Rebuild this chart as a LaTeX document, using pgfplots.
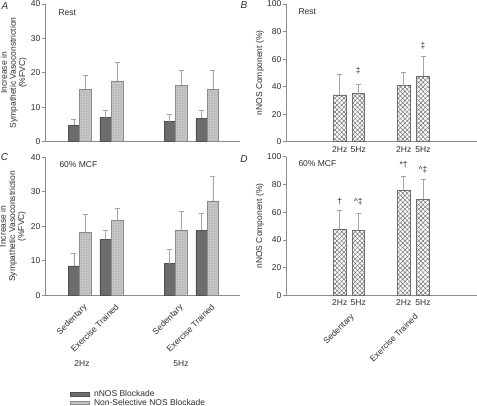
\documentclass[border=0pt]{standalone}
\usepackage{fontspec}
\setmainfont{Liberation Sans}
\usepackage{pgfplots}
\pgfplotsset{compat=1.18}
\usetikzlibrary{patterns,patterns.meta}

\definecolor{darkbar}{RGB}{108,108,108}
\definecolor{darkedge}{RGB}{80,80,80}
\definecolor{lightbar}{RGB}{200,200,200}
\definecolor{lightedge}{RGB}{140,140,140}
\definecolor{axgray}{RGB}{140,140,140}
\definecolor{errgray}{RGB}{165,165,165}
\definecolor{txt}{RGB}{45,45,45}
\definecolor{hatch}{RGB}{110,110,110}

\newcommand{\fs}{\fontsize{8.5bp}{9.2bp}\selectfont}

\pgfplotsset{
  panel/.style={
    scale only axis, clip=false,
    axis lines*=left,
    axis line style={axgray, line width=0.8bp},
    ymin=0,
    tick align=outside,
    major tick length=3bp,
    tick style={axgray, line width=0.7bp},
    x tick style={draw=none},
    tick label style={font=\fs, text=txt},
    /pgf/number format/assume math mode=true,
    label style={font=\fs, text=txt},
    yticklabel style={inner sep=1.5bp},
    error bars/y dir=plus,
    error bars/y explicit,
    error bars/error bar style={errgray, line width=0.8bp},
    error bars/error mark options={errgray, line width=0.8bp, mark size=2.5bp, rotate=90},
  },
  nnos/.style={ybar, bar width=11.5, fill=darkbar, draw=darkedge, line width=0.5bp},
  nsel/.style={ybar, bar width=11.5, fill=lightbar, draw=lightedge, line width=0.5bp,
    postaction={pattern={Dots[distance=1.6bp, radius=0.35bp]}, pattern color=gray!80}},
  hatchbar/.style={ybar, bar width=12.5, fill=white, draw=hatch, line width=0.6bp,
    pattern={Lines[angle=45, distance=3.2bp, line width=0.5bp]}, pattern color=hatch,
    postaction={pattern={Lines[angle=-45, distance=3.2bp, line width=0.5bp]}, pattern color=hatch}},
}

\begin{document}
\begin{tikzpicture}
\path[use as bounding box] (0,0) rectangle (477bp,406bp);

% ---------- Panel A ----------
\begin{axis}[panel, at={(45bp,264.3bp)}, anchor=south west,
  width=195bp, height=137.7bp, xmin=45, xmax=240, ymax=40,
  ytick={0,10,20,30,40}, xtick=\empty,
  ylabel={Increase in\\Sympathetic Vasoconstriction\\(\%FVC)},
  ylabel style={align=center, at={(axis description cs:-0.16,0.5)}, anchor=center}]
\addplot[nnos] coordinates {(73.9,4.8) +- (0,1.7) (105.7,7.0) +- (0,2.1) (169.8,5.8) +- (0,2.1) (201.5,6.8) +- (0,2.3)};
\addplot[nsel] coordinates {(85.3,15.2) +- (0,4.2) (117.1,17.7) +- (0,5.4) (181.2,16.4) +- (0,4.3) (212.9,15.2) +- (0,5.4)};
\node[anchor=west, font=\fs, text=txt] at (axis cs:55,37.4) {Rest};
\end{axis}

% ---------- Panel C ----------
\begin{axis}[panel, at={(45bp,110.7bp)}, anchor=south west,
  width=195bp, height=138bp, xmin=45, xmax=240, ymax=40,
  ytick={0,10,20,30,40},
  xtick={79.6,111.4,175.5,207.2},
  xticklabels={Sedentary,Exercise Trained,Sedentary,Exercise Trained},
  xticklabel style={rotate=45, anchor=north east, inner sep=1bp, yshift=-5bp},
  ylabel={Increase in\\Sympathetic Vasoconstriction\\(\%FVC)},
  ylabel style={align=center, at={(axis description cs:-0.165,0.5)}, anchor=center},
  legend style={at={(axis description cs:0.128,-0.685)}, anchor=north west,
    draw=none, fill=none, font=\fs, text=txt, inner sep=0pt, row sep=0pt,
    nodes={inner sep=0.4bp}, /tikz/every odd column/.append style={column sep=4bp}},
  legend cell align=left,
  legend image code/.code={\path[#1] (0bp,-1.6bp) rectangle (19bp,1.6bp);}]
\addplot[nnos] coordinates {(73.9,8.5) +- (0,3.6) (105.7,16.3) +- (0,2.4) (169.8,9.2) +- (0,4.0) (201.5,18.8) +- (0,5.0)};
\addlegendentry{nNOS Blockade}
\addplot[nsel] coordinates {(85.3,18.3) +- (0,5.1) (117.1,21.7) +- (0,3.6) (181.2,19.0) +- (0,5.3) (212.9,27.4) +- (0,7.0)};
\addlegendentry{Non-Selective NOS Blockade}
\node[anchor=west, font=\fs, text=txt] at (axis cs:56,37.8) {60\% MCF};
\node[font=\fs, text=txt] at (axis cs:82,-19.9) {2Hz};
\node[font=\fs, text=txt] at (axis cs:181,-19.9) {5Hz};
\end{axis}

% ---------- Panel B ----------
\begin{axis}[panel, at={(286bp,264.3bp)}, anchor=south west,
  width=191bp, height=137.7bp, xmin=286, xmax=477, ymax=100,
  ytick={0,20,40,60,80,100},
  xtick={339.7,358.3,403.7,423}, xticklabels={2Hz,5Hz,2Hz,5Hz},
  xticklabel style={inner sep=1.5bp},
  ylabel={nNOS Component (\%)},
  ylabel style={at={(axis description cs:-0.136,0.5)}, anchor=center}]
\addplot[hatchbar] coordinates {(339.7,34.0) +- (0,14.9) (358.3,34.9) +- (0,6.8) (403.7,40.7) +- (0,9.7) (423,47.7) +- (0,14.2)};
\node[font=\fs, text=txt] at (axis cs:295,94.4) [anchor=west] {Rest};
\node[font=\fs, text=txt] at (axis cs:358.3,51.6) {‡};
\node[font=\fs, text=txt] at (axis cs:423,69.6) {‡};
\end{axis}

% ---------- Panel D ----------
\begin{axis}[panel, at={(286bp,110.7bp)}, anchor=south west,
  width=191bp, height=138.5bp, xmin=286, xmax=477, ymax=100,
  ytick={0,20,40,60,80,100},
  xtick={339.7,358.3,403.7,423}, xticklabels={2Hz,5Hz,2Hz,5Hz},
  xticklabel style={inner sep=1.5bp},
  ylabel={nNOS Component (\%)},
  ylabel style={at={(axis description cs:-0.136,0.5)}, anchor=center}]
\addplot[hatchbar] coordinates {(339.7,47.7) +- (0,13.7) (358.3,46.9) +- (0,12.3) (403.7,76.0) +- (0,10.1) (423,69.3) +- (0,14.4)};
\node[font=\fs, text=txt] at (axis cs:295,95) [anchor=west] {60\% MCF};
\node[font=\fs, text=txt] at (axis cs:339.7,67.8) {†};
\node[font=\fs, text=txt] at (axis cs:358.3,67.8) {\textasciicircum‡};
\node[font=\fs, text=txt] at (axis cs:403.7,94.6) {*†};
\node[font=\fs, text=txt] at (axis cs:423,90.4) {\textasciicircum‡};
\node[font=\fs, text=txt, rotate=45, anchor=north east, inner sep=1bp] at ([yshift=-16bp]axis cs:350,0) {Sedentary};
\node[font=\fs, text=txt, rotate=45, anchor=north east, inner sep=1bp] at ([yshift=-16bp]axis cs:414,0) {Exercise Trained};
\end{axis}

% panel letters
\node[font=\fontsize{10bp}{12bp}\selectfont\itshape, text=txt] at (5bp,400bp) {A};
\node[font=\fontsize{10bp}{12bp}\selectfont\itshape, text=txt] at (244bp,401bp) {B};
\node[font=\fontsize{10bp}{12bp}\selectfont\itshape, text=txt] at (4.5bp,248.5bp) {C};
\node[font=\fontsize{10bp}{12bp}\selectfont\itshape, text=txt] at (244bp,247bp) {D};
\end{tikzpicture}
\end{document}
